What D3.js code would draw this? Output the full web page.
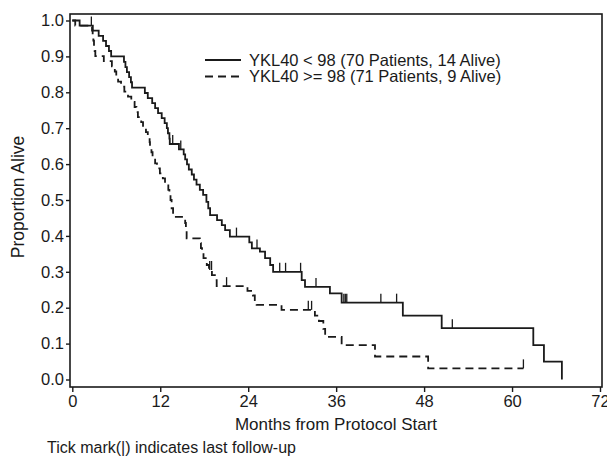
<!DOCTYPE html>
<html>
<head>
<meta charset="utf-8">
<script src="https://cdn.jsdelivr.net/npm/d3@7"></script>
<style>
  body { margin: 0; background: #fff; }
  svg text { font-family: "Liberation Sans", Arial, sans-serif; fill: #1a1a1a; }
</style>
</head>
<body>
<svg id="chart" width="607" height="459"></svg>
<script>
// Kaplan-Meier readings: month of each death and proportion alive after it
var low_times = [1.0, 2.8, 3.6, 4.2, 4.6, 5.0, 5.3, 7.05, 7.25, 7.45, 7.75, 8.0, 8.15,
  9.9, 10.3, 10.9, 11.3, 11.7, 12.2, 12.6, 12.9, 13.05, 13.25, 13.3, 14.55, 15.2, 15.4,
  15.65, 15.9, 16.3, 16.6, 16.95, 17.4, 17.85, 18.3, 18.55, 18.8, 19.75, 20.4, 20.85,
  21.5, 24.15, 24.5, 25.6, 26.3, 27.0, 27.4, 31.3, 31.75, 35.15, 36.75, 45.1, 50.4,
  62.9, 64.35, 66.8];
var low_surv = [0.986, 0.972, 0.957, 0.943, 0.929, 0.915, 0.9, 0.885, 0.870, 0.856, 0.842,
  0.828, 0.813, 0.798, 0.784, 0.770, 0.756, 0.742, 0.728, 0.714, 0.700, 0.686, 0.671,
  0.656, 0.641, 0.627, 0.613, 0.599, 0.585, 0.571, 0.557, 0.543, 0.528, 0.514, 0.495,
  0.477, 0.458, 0.444, 0.430, 0.416, 0.398, 0.382, 0.365, 0.356, 0.338, 0.319, 0.300,
  0.277, 0.258, 0.240, 0.214, 0.178, 0.143, 0.096, 0.050, 0.0];
var low_censor = [13.7, 14.8, 22.4, 25.2, 28.3, 29.1, 31.15, 33.25, 37.05, 37.25, 37.45,
  42.1, 44.25, 51.85];

var high_times = [0.4, 2.69, 2.78, 2.87, 2.96, 3.05, 3.14, 4.3, 5.4, 5.8, 6.0, 6.25, 6.65,
  7.1, 7.6, 8.05, 8.5, 8.75, 8.95, 9.4, 9.65, 10.05, 10.3, 10.55, 10.6, 10.8, 10.95, 11.3,
  11.55, 11.95, 12.35, 12.65, 13.1, 13.25, 13.4, 13.55, 13.75, 15.4, 15.5, 15.6, 17.4,
  17.55, 17.7, 17.9, 18.35, 18.65, 19.05, 19.45, 19.7, 23.9, 24.65, 24.9, 25.15, 28.55,
  33.1, 33.65, 34.25, 34.5, 36.75, 41.3, 48.55];
var high_surv = [0.986, 0.972, 0.958, 0.944, 0.929, 0.915, 0.901, 0.887, 0.872, 0.858,
  0.844, 0.830, 0.816, 0.802, 0.788, 0.773, 0.759, 0.745, 0.731, 0.717, 0.703, 0.689,
  0.675, 0.661, 0.647, 0.633, 0.619, 0.602, 0.588, 0.574, 0.560, 0.546, 0.528, 0.514,
  0.500, 0.477, 0.453, 0.436, 0.416, 0.393, 0.380, 0.366, 0.352, 0.338, 0.319, 0.305,
  0.291, 0.277, 0.260, 0.247, 0.234, 0.221, 0.208, 0.194, 0.178, 0.163, 0.141, 0.119,
  0.096, 0.064, 0.031];
var high_censor = [2.6, 18.75, 19.0, 21.05, 32.2, 32.65, 61.55];

var x_ticks = [0, 12, 24, 36, 48, 60, 72];
var y_ticks = [0, 0.1, 0.2, 0.3, 0.4, 0.5, 0.6, 0.7, 0.8, 0.9, 1.0];

var legend_labels = ["YKL40 < 98 (70 Patients, 14 Alive)", "YKL40 >= 98 (71 Patients, 9 Alive)"];

var ink = "#1a1a1a";

var svg = d3.select("#chart");
var x = d3.scaleLinear().domain([0, 72]).range([72.3, 600]);
var y = d3.scaleLinear().domain([0, 1]).range([379.5, 20.5]);

// frame
svg.append("rect")
  .attr("x", 70).attr("y", 14).attr("width", 532).attr("height", 373)
  .attr("fill", "none").attr("stroke", ink).attr("stroke-width", 1.6);

var x_axis = svg.append("g").attr("transform", "translate(0,387)")
  .call(d3.axisBottom(x).tickValues(x_ticks).tickSize(5).tickPadding(3));
var y_axis = svg.append("g").attr("transform", "translate(70,0)")
  .call(d3.axisLeft(y).tickValues(y_ticks).tickFormat(d3.format(".1f")).tickSize(4).tickPadding(2));
[x_axis, y_axis].forEach(function (a) {
  a.select(".domain").remove();
  a.selectAll("line").attr("stroke", ink).attr("stroke-width", 1.4);
  a.selectAll("text").style("font-size", "16.5px").attr("fill", ink);
});

// step curves
function km_points(times, surv, end_time)
{
  let pts = [[0, 1]];
  times.forEach(function (t, i) { pts.push([t, surv[i]]); });
  let last = pts[pts.length - 1];
  if (end_time > last[0]) { pts.push([end_time, last[1]]); }
  return pts;
}

function surv_at(times, surv, t)
{
  let i = d3.bisectRight(times, t);
  return i == 0 ? 1 : surv[i - 1];
}

var line = d3.line()
  .x(function (d) { return x(d[0]); })
  .y(function (d) { return y(d[1]); })
  .curve(d3.curveStepAfter);

var groups = [
  {times: low_times, surv: low_surv, censor: low_censor, dash: null},
  {times: high_times, surv: high_surv, censor: high_censor, dash: "8,5"}
];

groups.forEach(function (g) {
  let end_time = Math.max(g.times[g.times.length - 1], d3.max(g.censor));
  svg.append("path")
    .datum(km_points(g.times, g.surv, end_time))
    .attr("d", line)
    .attr("fill", "none")
    .attr("stroke", ink)
    .attr("stroke-width", 1.8)
    .attr("stroke-dasharray", g.dash);

  svg.selectAll(null)
    .data(g.censor)
    .enter()
    .append("line")
      .attr("x1", function (d) { return x(d); })
      .attr("x2", function (d) { return x(d); })
      .attr("y1", function (d) { return y(surv_at(g.times, g.surv, d)); })
      .attr("y2", function (d) { return y(surv_at(g.times, g.surv, d)) - 9; })
      .attr("stroke", ink)
      .attr("stroke-width", 1.3);
});

// legend
var legend = svg.append("g").attr("transform", "translate(205,60)");
legend_labels.forEach(function (label, i) {
  legend.append("line")
    .attr("x1", 0).attr("x2", 36).attr("y1", i * 16.5).attr("y2", i * 16.5)
    .attr("stroke", ink).attr("stroke-width", 1.8)
    .attr("stroke-dasharray", i == 1 ? "8,5" : null);
  legend.append("text")
    .attr("x", 44).attr("y", i * 16.5).attr("dy", "0.35em")
    .style("font-size", "16.5px")
    .text(label);
});

// axis titles
svg.append("text")
  .attr("transform", "translate(24,197) rotate(-90)")
  .attr("text-anchor", "middle")
  .style("font-size", "17.5px")
  .text("Proportion Alive");
svg.append("text")
  .attr("x", 336).attr("y", 430)
  .attr("text-anchor", "middle")
  .style("font-size", "17px")
  .text("Months from Protocol Start");
svg.append("text")
  .attr("x", 47).attr("y", 453)
  .style("font-size", "16px")
  .text("Tick mark(|) indicates last follow-up");
</script>
</body>
</html>
